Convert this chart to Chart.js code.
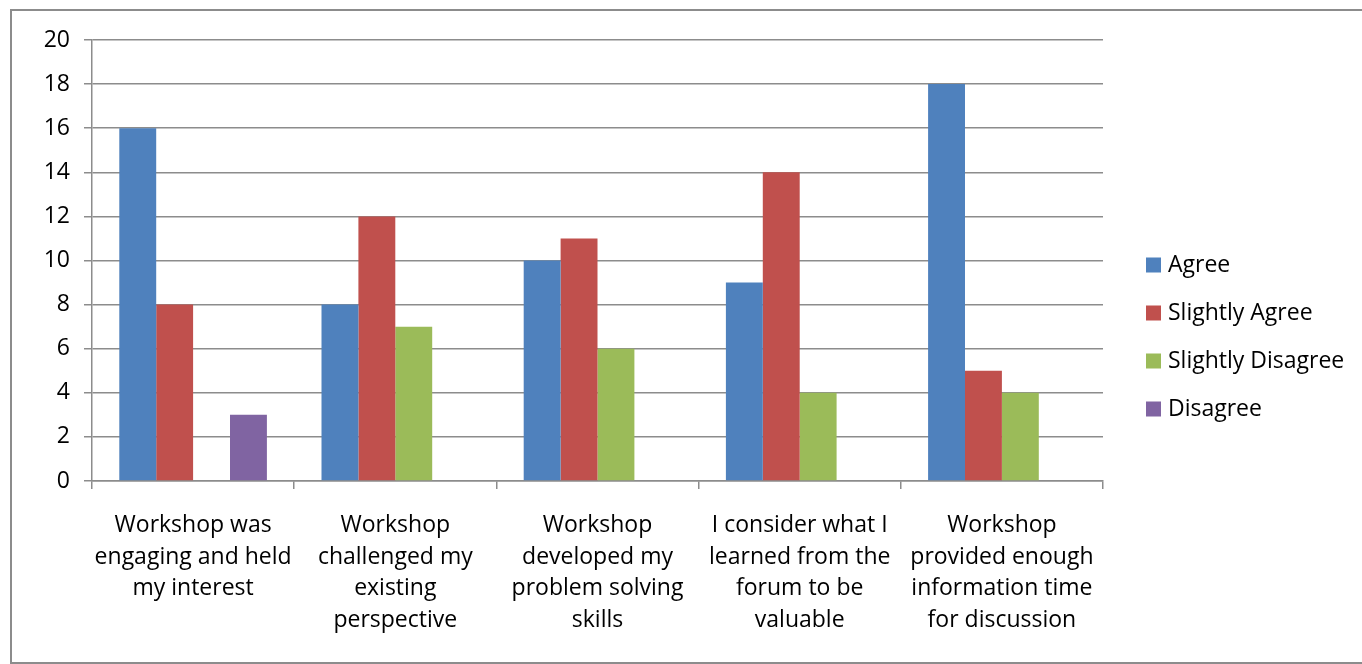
<!DOCTYPE html>
<html>
<head>
<meta charset="utf-8">
<script src="https://cdn.jsdelivr.net/npm/chart.js@4"></script>
<style>
  html, body { margin: 0; padding: 0; background: #fff; overflow: hidden; }
  #frame { position: absolute; left: 10px; top: 9px; width: 1400px; height: 655px; border: 2px solid #8c8c8c; box-sizing: border-box; }
  #wrap { position: absolute; left: 0; top: 0; width: 1362px; height: 664px; }
</style>
</head>
<body>
<div id="frame"></div>
<div id="wrap"><canvas id="c"></canvas></div>
<script>
// categories (already wrapped the way the original chart wraps them)
const categories = [
  ['Workshop was', 'engaging and held', 'my interest'],
  ['Workshop', 'challenged my', 'existing', 'perspective'],
  ['Workshop', 'developed my', 'problem solving', 'skills'],
  ['I consider what I', 'learned from the', 'forum to be', 'valuable'],
  ['Workshop', 'provided enough', 'information time', 'for discussion']
];
const seriesNames = ['Agree', 'Slightly Agree', 'Slightly Disagree', 'Disagree'];
const agree            = [16, 8, 10, 9, 18];
const slightlyAgree    = [8, 12, 11, 14, 5];
const slightlyDisagree = [0, 7, 6, 4, 4];
const disagree         = [3, 0, 0, 0, 0];
const seriesColors = ['#4F81BD', '#C0504D', '#9BBB59', '#8064A2'];
const yMin = 0, yMax = 20, yStep = 2;

const FONT = "'Open Sans', sans-serif";
const GRID = '#8c8c8c';

// legend drawn at the right, like the Excel original
const sideLegend = {
  id: 'sideLegend',
  afterDraw(chart) {
    const ctx = chart.ctx;
    const ds = chart.data.datasets;
    const rowH = 48, box = 15;
    const x = chart.chartArea.right + 43;
    let y = chart.chartArea.top + 225;
    ctx.save();
    ctx.font = '23px ' + FONT;
    ctx.textBaseline = 'middle';
    ctx.textAlign = 'left';
    ds.forEach(d => {
      ctx.fillStyle = d.backgroundColor;
      ctx.fillRect(x, y - box / 2, box, box);
      ctx.fillStyle = '#000';
      ctx.fillText(d.label, x + box + 7, y);
      y += rowH;
    });
    ctx.restore();
  }
};

const values = [agree, slightlyAgree, slightlyDisagree, disagree];

new Chart(document.getElementById('c'), {
  type: 'bar',
  data: {
    labels: categories,
    datasets: seriesNames.map((n, i) => ({
      label: n,
      data: values[i],
      backgroundColor: seriesColors[i],
      borderWidth: 0,
      categoryPercentage: 0.73,
      barPercentage: 1.0
    }))
  },
  options: {
    responsive: true,
    maintainAspectRatio: false,
    animation: false,
    layout: { padding: { top: 40, right: 259, left: 0, bottom: 0 } },
    plugins: {
      legend: { display: false },
      tooltip: { enabled: false }
    },
    scales: {
      x: {
        offset: true,
        grid: { offset: true, drawOnChartArea: false, drawTicks: true, tickLength: 8, color: GRID, lineWidth: 1.5 },
        border: { display: true, color: GRID, width: 1.5 },
        ticks: {
          color: '#000', font: { family: FONT, size: 23, lineHeight: 1.39 },
          maxRotation: 0, autoSkip: false, padding: 20
        },
        afterFit(s) { s.height = 183; }
      },
      y: {
        min: yMin, max: yMax,
        grid: { color: GRID, lineWidth: 1.5, tickLength: 8 },
        border: { display: true, color: GRID, width: 1.5 },
        ticks: { stepSize: yStep, color: '#000', font: { family: FONT, size: 23 }, padding: 14 },
        afterFit(s) { s.width = 92; }
      }
    }
  },
  plugins: [sideLegend]
});
</script>
</body>
</html>
